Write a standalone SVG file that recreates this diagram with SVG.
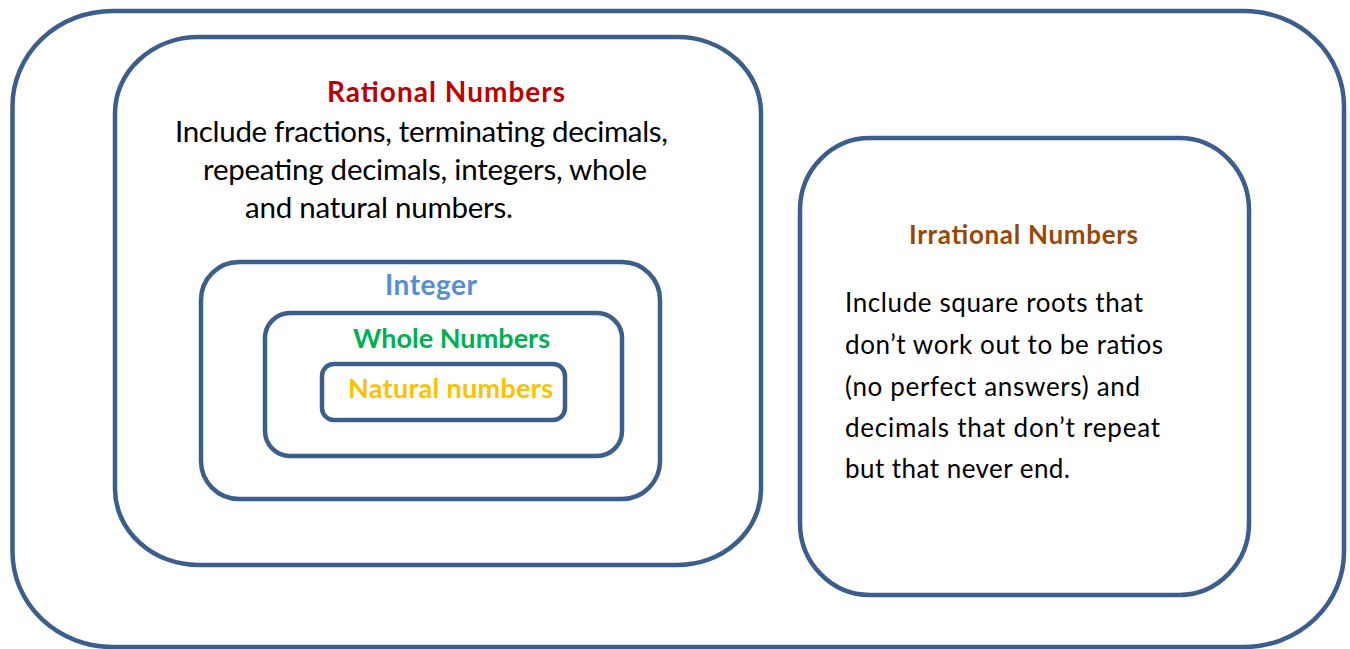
<svg xmlns="http://www.w3.org/2000/svg" width="1350" height="649" viewBox="0 0 1350 649">
<style>
.box{fill:none;stroke:#3B5E8C;stroke-width:4.5}
.t{font-family:Lato,"Open Sans","Liberation Sans",sans-serif;fill:#000}
.h{font-family:Lato,"Open Sans","Liberation Sans",sans-serif;font-weight:bold}
.body1{font-size:29.5px}
.body2{font-size:26px}
</style>
<rect width="1350" height="649" fill="#fff"/>
<g id="real-numbers">
<rect class="box" x="12.5" y="11" width="1331.5" height="636" rx="100" ry="95"/>
</g>
<g id="rational-numbers">
<rect class="box" x="115" y="37" width="646" height="528" rx="84" ry="76"/>
<text class="h" x="327" y="102" font-size="28" fill="#C00000" textLength="238">Rational Numbers</text>
<text class="t body1" x="175" y="142" textLength="493">Include fractions, terminating decimals,</text>
<text class="t body1" x="203" y="180" textLength="444">repeating decimals, integers, whole</text>
<text class="t body1" x="245" y="218" textLength="268">and natural numbers.</text>
</g>
<g id="integer">
<rect class="box" x="201" y="262" width="459" height="237" rx="38" ry="38"/>
<text class="h" x="385" y="295" font-size="28" fill="#558ED5" textLength="92">Integer</text>
</g>
<g id="whole-numbers">
<rect class="box" x="265" y="313" width="357" height="143" rx="25" ry="25"/>
<text class="h" x="353" y="348" font-size="27" fill="#00B050" textLength="197">Whole Numbers</text>
</g>
<g id="natural-numbers">
<rect class="box" x="322" y="364" width="243" height="56" rx="12" ry="12"/>
<text class="h" x="348" y="398" font-size="27" fill="#FFC000" textLength="205">Natural numbers</text>
</g>
<g id="irrational-numbers">
<rect class="box" x="800" y="138" width="449" height="457" rx="70" ry="72"/>
<text class="h" x="909" y="244" font-size="26" fill="#984806" textLength="229">Irrational Numbers</text>
<text class="t body2" x="845" y="312" textLength="298">Include square roots that</text>
<text class="t body2" x="845" y="354" textLength="318">don’t work out to be ratios</text>
<text class="t body2" x="845" y="396" textLength="295">(no perfect answers) and</text>
<text class="t body2" x="845" y="437" textLength="315">decimals that don’t repeat</text>
<text class="t body2" x="845" y="478" textLength="225">but that never end.</text>
</g>
<g id="connectors"></g>
</svg>
